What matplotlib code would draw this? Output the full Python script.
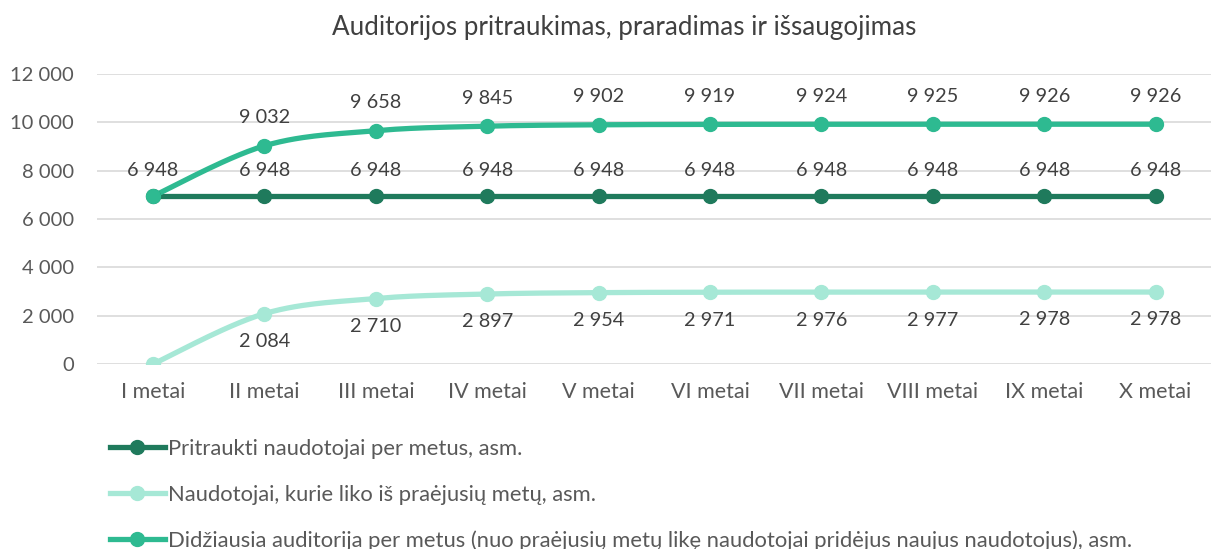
import numpy as np
import matplotlib.pyplot as plt

years = ["I metai", "II metai", "III metai", "IV metai", "V metai",
         "VI metai", "VII metai", "VIII metai", "IX metai", "X metai"]
pritraukti = [6948, 6948, 6948, 6948, 6948, 6948, 6948, 6948, 6948, 6948]
liko = [0, 2084, 2710, 2897, 2954, 2971, 2976, 2977, 2978, 2978]
didziausia = [6948, 9032, 9658, 9845, 9902, 9919, 9924, 9925, 9926, 9926]

labels = ["Pritraukti naudotojai per metus, asm.",
          "Naudotojai, kurie liko iš praėjusių metų, asm.",
          "Didžiausia auditorija per metus (nuo praėjusių metų likę naudotojai pridėjus naujus naudotojus), asm."]
colors = ["#1f7a5c", "#a6e8d6", "#2eba91"]

plt.rcParams['font.family'] = ['Lato', 'DejaVu Sans']
TXT = "#595959"


def smooth(xs, ys, n=30):
    # Catmull-Rom style curve like Excel's smoothed line
    xs = np.asarray(xs, float)
    ys = np.asarray(ys, float)
    px = np.concatenate([[xs[0]], xs, [xs[-1]]])
    py = np.concatenate([[ys[0]], ys, [ys[-1]]])
    ox, oy = [], []
    for i in range(1, len(px) - 2):
        p0, p1, p2, p3 = (np.array([px[j], py[j]]) for j in (i - 1, i, i + 1, i + 2))
        c1 = p1 + (p2 - p0) / 6
        c2 = p2 - (p3 - p1) / 6
        t = np.linspace(0, 1, n)[:, None]
        b = (1 - t) ** 3 * p1 + 3 * (1 - t) ** 2 * t * c1 + 3 * (1 - t) * t ** 2 * c2 + t ** 3 * p2
        ox.extend(b[:, 0])
        oy.extend(b[:, 1])
    return ox, oy


def fmt(v):
    return f"{v:,}".replace(",", " ")


fig = plt.figure(figsize=(12.26, 5.49), dpi=100)
ax = fig.add_axes([0.0794, 0.337, 0.9086, 0.528])

x = np.arange(len(years))
series = [pritraukti, liko, didziausia]
handles = []
for vals, col, lab in zip(series, colors, labels):
    sx, sy = smooth(x, vals)
    ax.plot(sx, sy, color=col, lw=3.8, solid_capstyle='round', zorder=3)
    ax.plot(x, vals, 'o', color=col, ms=10, zorder=4)
    h, = ax.plot([], [], color=col, lw=3.8, marker='o', ms=10, label=lab)
    handles.append(h)

LBL = 14.3
for i, v in enumerate(pritraukti):
    ax.annotate(fmt(v), (i, v), xytext=(0, 12), textcoords='offset points',
                ha='center', va='bottom', fontsize=LBL, color="#404040")
for i, v in enumerate(didziausia):
    if i == 0:
        continue
    ax.annotate(fmt(v), (i, v), xytext=(0, 14), textcoords='offset points',
                ha='center', va='bottom', fontsize=LBL, color="#404040")
for i, v in enumerate(liko):
    if i == 0:
        continue
    ax.annotate(fmt(v), (i, v), xytext=(0, -14), textcoords='offset points',
                ha='center', va='top', fontsize=LBL, color="#404040")

ax.set_xlim(-0.5, 9.5)
ax.set_ylim(0, 12000)
ax.set_yticks(range(0, 12001, 2000))
ax.set_yticklabels([fmt(v) for v in range(0, 12001, 2000)])
ax.set_xticks(x)
ax.set_xticklabels(years)
ax.tick_params(axis='both', length=0, colors=TXT)
ax.tick_params(axis='x', pad=13, labelsize=15.5)
ax.tick_params(axis='y', pad=17, labelsize=14.5)
ax.grid(axis='y', color="#d9d9d9", lw=1.2)
ax.set_axisbelow(True)
for s in ax.spines.values():
    s.set_visible(False)

fig.text(0.509, 0.95, "Auditorijos pritraukimas, praradimas ir išsaugojimas",
         ha='center', va='center', fontsize=18.7, color="#404040")

fig.legend(handles=handles, loc='upper left', bbox_to_anchor=(0.0897, 0.2005),
           frameon=False, fontsize=15.8, handlelength=2.5, labelspacing=1.17,
           handletextpad=0.14, borderaxespad=0, borderpad=0, labelcolor=TXT)

fig.savefig("out.png", dpi=100)
